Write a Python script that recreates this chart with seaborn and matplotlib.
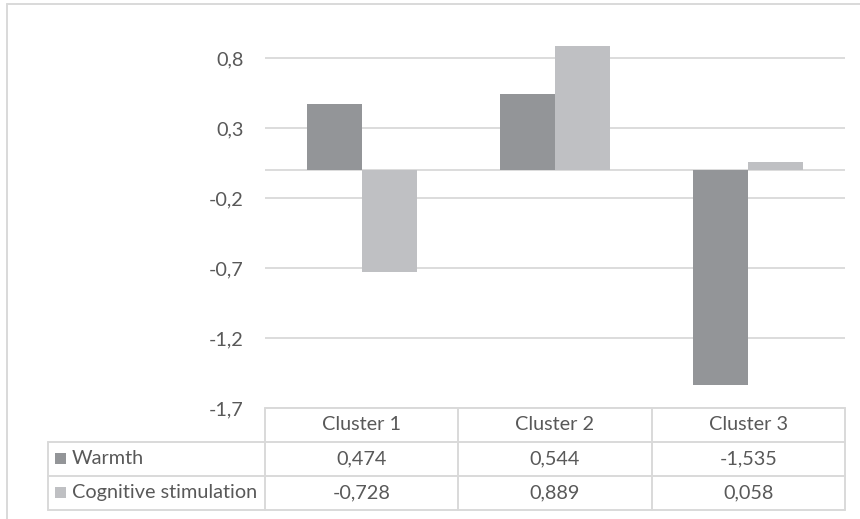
import matplotlib
matplotlib.use("Agg")
import matplotlib.pyplot as plt
from matplotlib.lines import Line2D
from matplotlib.patches import Rectangle
import seaborn as sns
import pandas as pd

# Data
clusters = ["Cluster 1", "Cluster 2", "Cluster 3"]
series = ["Warmth", "Cognitive stimulation"]
warmth = [0.474, 0.544, -1.535]
cognitive = [-0.728, 0.889, 0.058]
yticks = [-1.7, -1.2, -0.7, -0.2, 0.3, 0.8]

colors = {"Warmth": "#939598", "Cognitive stimulation": "#bfc0c3"}
text_col = "#595959"
line_col = "#d9d9d9"
font = "Lato"
fs = 14.3

df = pd.DataFrame({
    "cluster": clusters * 2,
    "series": [series[0]] * 3 + [series[1]] * 3,
    "value": warmth + cognitive,
})

def fmt(v, nd):
    return f"{v:.{nd}f}".replace(".", ",")

sns.set_theme(style="white")
plt.rcParams["font.family"] = [font, "DejaVu Sans"]

W, H = 860, 519
fig = plt.figure(figsize=(W / 100, H / 100), dpi=100)

# Plot area in pixel terms
px_left, px_right, px_top, px_bottom = 265, 845, 4, 408
ax = fig.add_axes([px_left / W, 1 - px_bottom / H,
                   (px_right - px_left) / W, (px_bottom - px_top) / H])

sns.barplot(data=df, x="cluster", y="value", hue="series", order=clusters,
            hue_order=series, palette=colors, width=0.57, ax=ax,
            saturation=1, linewidth=0, legend=False)

ymin = -1.7
ymax = ymin + (px_bottom - px_top) / 140.0
ax.set_ylim(ymin, ymax)
ax.set_xlim(-0.5, 2.5)
ax.set_yticks(yticks)
ax.set_yticklabels([fmt(t, 1) for t in yticks], color=text_col,
                   fontsize=fs, family=[font, "DejaVu Sans"])
ax.tick_params(axis="y", length=0, pad=15.5)
ax.set_xticks([])
ax.set_xlabel("")
ax.set_ylabel("")
ax.grid(axis="y", color=line_col, linewidth=1.3)
ax.axhline(0, color=line_col, linewidth=1.3, zorder=0.5)
ax.set_axisbelow(True)
for s in ax.spines.values():
    s.set_visible(False)

# Overlay in pixel coordinates for the data table and outer frame
ov = fig.add_axes([0, 0, 1, 1], facecolor="none")
ov.set_xlim(0, W)
ov.set_ylim(H, 0)
ov.axis("off")

def hline(x0, x1, y):
    ov.add_line(Line2D([x0, x1], [y, y], color=line_col, lw=1.4))

def vline(x, y0, y1):
    ov.add_line(Line2D([x, x], [y0, y1], color=line_col, lw=1.4))

# outer chart frame
hline(7, W, 4)
vline(7, 4, H)

col_x = [265, 458.3, 651.7, 845]
tbl_left = 48
row_y = [408.3, 441.7, 475.7, 510]

hline(col_x[0], col_x[-1], row_y[0])
for y in row_y[1:]:
    hline(tbl_left, col_x[-1], y)
for x in col_x:
    vline(x, row_y[0], row_y[-1])
vline(tbl_left, row_y[1], row_y[-1])

for i, c in enumerate(clusters):
    cx = (col_x[i] + col_x[i + 1]) / 2
    ov.text(cx, (row_y[0] + row_y[1]) / 2, c, ha="center", va="center",
            color=text_col, fontsize=fs)

for r, (name, vals) in enumerate(zip(series, [warmth, cognitive])):
    cy = (row_y[r + 1] + row_y[r + 2]) / 2
    ov.add_patch(Rectangle((55, cy - 5.5), 11, 11, color=colors[name], lw=0))
    ov.text(72, cy, name, ha="left", va="center", color=text_col, fontsize=fs)
    for i, v in enumerate(vals):
        cx = (col_x[i] + col_x[i + 1]) / 2
        ov.text(cx, cy, fmt(v, 3), ha="center", va="center",
                color=text_col, fontsize=fs)

fig.savefig("out.png", dpi=100, facecolor="white")
